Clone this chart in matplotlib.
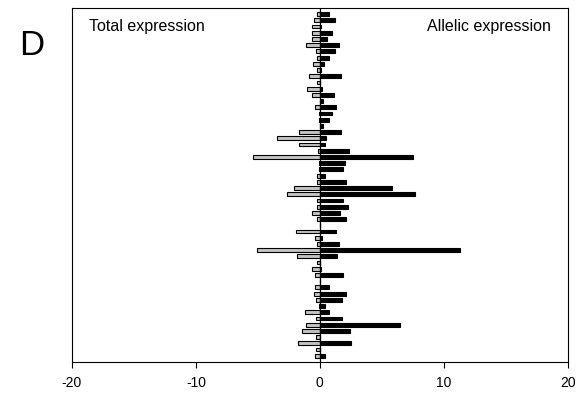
import numpy as np
import matplotlib.pyplot as plt

plt.rcParams['font.family'] = ['Liberation Sans', 'DejaVu Sans']

# one row per gene, top to bottom
total_expr = [-0.2, -0.5, -0.6, -0.67, -0.6, -1.08, -0.3, -0.2, -0.56, -0.24,
              -0.86, -0.2, -1.0, -0.6, 0.0, -0.4, -0.1, -0.1, 0.0, -1.67,
              -3.44, -1.67, -0.13, -5.38, -0.05, -0.05, -0.24, -0.2, -2.07, -2.66,
              -0.2, -0.2, -0.67, -0.2, 0.0, -1.9, -0.4, -0.2, -5.05, -1.85,
              -0.27, -0.62, -0.4, 0.0, -0.4, -0.46, -0.35, -0.1, -1.2, -0.35,
              -1.1, -1.48, -0.35, -1.8, -0.35, -0.43]
allelic_expr = [0.73, 1.24, 0.13, 1.0, 0.6, 1.56, 1.24, 0.73, 0.35, 0.1,
                1.72, 0.0, 0.2, 1.16, 0.27, 1.34, 1.0, 0.75, 0.24, 1.72,
                0.5, 0.43, 2.37, 7.5, 2.0, 1.9, 0.43, 2.1, 5.8, 7.7,
                1.88, 2.28, 1.64, 2.1, 0.0, 1.3, 0.2, 1.53, 11.3, 1.4,
                0.0, 0.08, 1.9, 0.0, 0.73, 2.1, 1.8, 0.4, 0.73, 1.8,
                6.5, 2.4, 0.0, 2.5, 0.0, 0.43]
x_ticks = [-20, -10, 0, 10, 20]

rows = np.arange(len(total_expr))

fig = plt.figure(figsize=(5.8, 3.96), dpi=100)
ax = fig.add_axes([0.124, 0.086, 0.855, 0.894])

ax.barh(rows, total_expr, height=0.62, color='#c4c4c4', edgecolor='black', linewidth=0.8)
ax.barh(rows, allelic_expr, height=0.62, color='black', edgecolor='black', linewidth=0.8)
ax.axvline(0, color='black', linewidth=0.9)

ax.set_xlim(-20, 20)
ax.set_ylim(56, -1)
ax.set_xticks(x_ticks)
ax.set_xticklabels([str(t) for t in x_ticks], fontsize=10)
ax.set_yticks([])
ax.tick_params(axis='x', direction='out', length=4, width=0.8, pad=6)
for s in ax.spines.values():
    s.set_linewidth(0.8)

ax.text(0.035, 0.97, 'Total expression', transform=ax.transAxes,
        fontsize=11.5, ha='left', va='top')
ax.text(0.965, 0.97, 'Allelic expression', transform=ax.transAxes,
        fontsize=11.5, ha='right', va='top')

fig.text(0.033, 0.885, 'D', fontsize=25, ha='left', va='center')

fig.savefig('out.png', dpi=100)
